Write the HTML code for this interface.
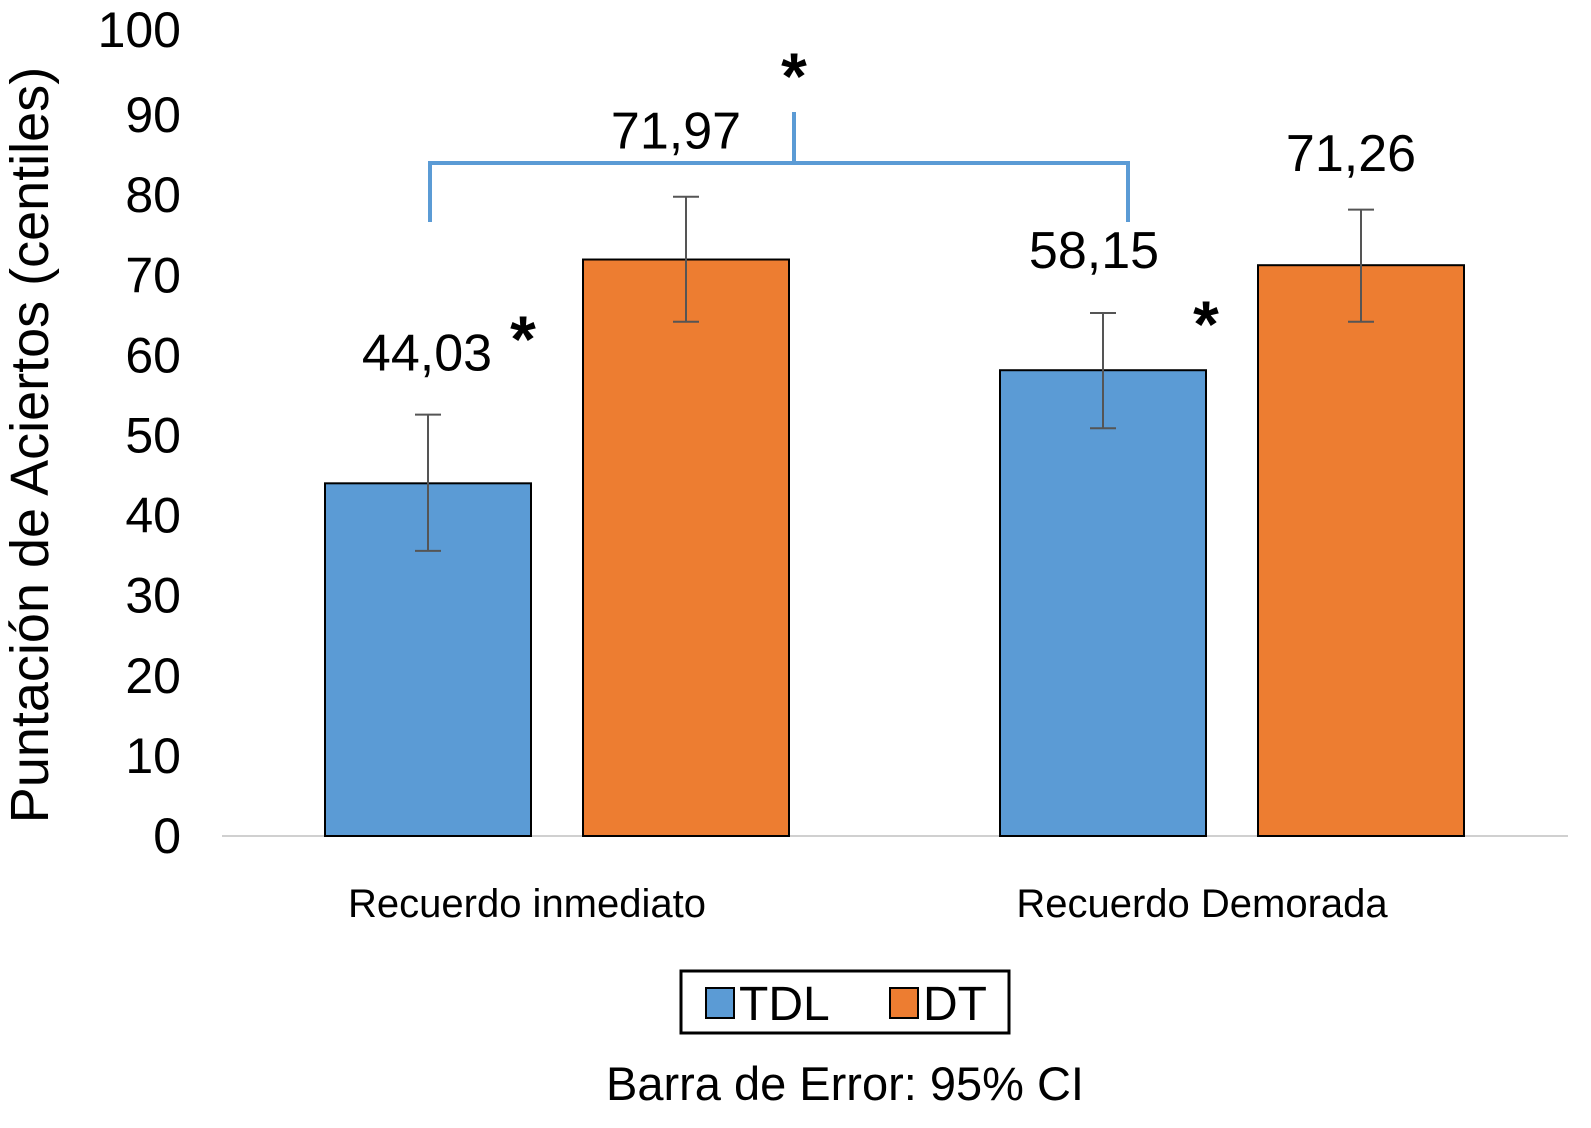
<!DOCTYPE html>
<html><head><meta charset="utf-8"><style>
html,body{margin:0;padding:0;background:#fff;}
svg{display:block;font-family:"Liberation Sans",Arial,sans-serif;}
</style></head><body>
<svg id="chart" width="1591" height="1128" viewBox="0 0 1591 1128"></svg>
<script>
const categories = ["Recuerdo inmediato","Recuerdo Demorada"];
const seriesNames = ["TDL","DT"];
const tdlValues = [44.03, 58.15];
const dtValues = [71.97, 71.26];
const tdlLabels = ["44,03","58,15"];
const dtLabels = ["71,97","71,26"];
const tdlErrHigh = [52.6, 65.3];
const tdlErrLow = [35.6, 50.9];
const dtErrHigh = [79.8, 78.2];
const dtErrLow = [64.2, 64.2];
const yTicks = [0,10,20,30,40,50,60,70,80,90,100];

const NS="http://www.w3.org/2000/svg";
const svg=document.getElementById('chart');
function el(tag,attrs,parent){const e=document.createElementNS(NS,tag);for(const k in attrs)e.setAttribute(k,attrs[k]);(parent||svg).appendChild(e);return e;}
const y0=836, unit=8.01;
function yScale(v){return y0-v*unit;}
const groupCenters=[557,1232];
function xBar(g,s){return groupCenters[g]+(s===0?-232:26);}
const barW=206;
const colors=["#5b9bd5","#ed7d31"];

yTicks.forEach(t=>{
  const tx=el('text',{x:181,y:yScale(t)+(t===100?-5:0)+17,'text-anchor':'end','font-size':50,fill:'#000'});
  
  
  tx.textContent=t;
});
const yt=el('text',{x:0,y:0,transform:'translate(48,445) rotate(-90)','text-anchor':'middle','font-size':54,fill:'#000'});


yt.textContent='Puntación de Aciertos (centiles)';

const base=el('line',{x1:222,x2:1568,y1:y0,y2:y0,stroke:'#d0d0d0','stroke-width':2});



const vals=[tdlValues,dtValues], labs=[tdlLabels,dtLabels], hi=[tdlErrHigh,dtErrHigh], lo=[tdlErrLow,dtErrLow];
categories.forEach((c,g)=>{
  [0,1].forEach(s=>{
    const x=xBar(g,s), v=vals[s][g];
    const r=el('rect',{x:x,y:yScale(v),width:barW,height:y0-yScale(v),fill:colors[s],stroke:'#000','stroke-width':2});
    
    
    const cx=x+barW/2;
    const e=el('path',{d:`M${cx},${yScale(hi[s][g])}V${yScale(lo[s][g])}M${cx-13},${yScale(hi[s][g])}H${cx+13}M${cx-13},${yScale(lo[s][g])}H${cx+13}`,stroke:'#555','stroke-width':2,fill:'none'});
    
    
    const lx = (s===0&&g===0)?cx-1:(s===0?cx-9:cx-10);
    const ly = (s===0&&g===0)?yScale(v)-113:(s===1&&g===0)?yScale(v)-111:(s===0?yScale(v)-102:yScale(v)-94);
    const t=el('text',{x:lx,y:ly,'text-anchor':'middle','font-size':52,fill:'#000'});
    
    
    t.textContent=labs[s][g];
  });
  const ct=el('text',{x:groupCenters[g]-30,y:917,'text-anchor':'middle','font-size':40,fill:'#000'});
  
  
  ct.textContent=c;
});

const br=el('path',{d:'M430,222V163H1128V222M794,163V112',stroke:'#5b9bd5','stroke-width':4,fill:'none'});


[[794,65],[523,328],[1206,313]].forEach(p=>{
  const a=el('text',{x:p[0],y:p[1]+34,'text-anchor':'middle','font-size':66,'font-weight':'bold',fill:'#000'});
  
  
  a.textContent='*';
});

const lg=el('g',{});


el('rect',{x:681,y:971,width:328,height:62,fill:'#fff',stroke:'#000','stroke-width':3},lg);
[[706,'TDL',0],[890,'DT',1]].forEach(([x,n,i])=>{
  const sw=el('rect',{x:x,y:988,width:28,height:30,fill:colors[i],stroke:'#000','stroke-width':2},lg);
  
  
  const t=el('text',{x:x+33,y:1020,'font-size':48,fill:'#000'},lg);
  
  
  t.textContent=n;
});
const cap=el('text',{x:845,y:1100,'text-anchor':'middle','font-size':47,fill:'#000'});


cap.textContent='Barra de Error: 95% CI';
</script>
</body></html>
